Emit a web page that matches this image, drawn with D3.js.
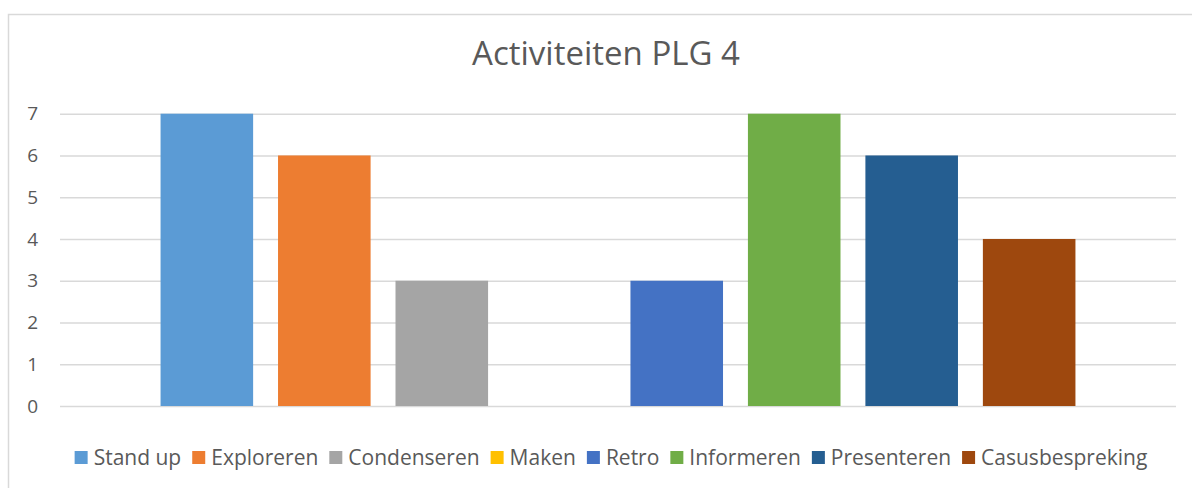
<!DOCTYPE html>
<html>
<head>
<meta charset="utf-8">
<script src="https://cdn.jsdelivr.net/npm/d3@7"></script>
<style>
  html, body { margin: 0; padding: 0; background: #fff; }
  #chart { width: 1192px; height: 488px; }
  text { font-family: "Open Sans", "Noto Sans", sans-serif; fill: #595959; }
</style>
</head>
<body>
<div id="chart"></div>
<script>
const title = "Activiteiten PLG 4";
const series = ["Stand up", "Exploreren", "Condenseren", "Maken", "Retro", "Informeren", "Presenteren", "Casusbespreking"];
const values = [7, 6, 3, 0, 3, 7, 6, 4];
const colors = ["#5b9bd5", "#ed7d31", "#a5a5a5", "#ffc000", "#4472c4", "#70ad47", "#255e91", "#9e480e"];
const yTicks = [0, 1, 2, 3, 4, 5, 6, 7];

function renderChart(containerSelector) {
    const container = d3.select(containerSelector);
    const width = 1192, height = 488;
    container.selectAll("*").remove();

    const svg = container.append("svg")
        .attr("width", width)
        .attr("height", height);

    // chart frame (runs off the right and bottom of the picture)
    svg.append("rect")
        .attr("x", 8.5).attr("y", 14.5)
        .attr("width", 1196).attr("height", 490)
        .attr("fill", "#fff")
        .attr("stroke", "#d9d9d9")
        .attr("stroke-width", 1.5);

    const margin = { top: 113.7, right: 16, bottom: 82, left: 60 };

    const x = d3.scaleBand()
        .domain(series)
        .range([margin.left, width - margin.right])
        .paddingInner(0.212)
        .paddingOuter(0.856);

    const y = d3.scaleLinear()
        .domain([0, 7])
        .range([height - margin.bottom, margin.top]);

    // grid
    svg.append("g")
        .attr("class", "grid")
        .attr("transform", `translate(${margin.left},0)`)
        .call(d3.axisLeft(y).tickValues(yTicks).tickSize(-(width - margin.right - margin.left)).tickFormat(""))
        .call(g => g.select(".domain").remove())
        .call(g => g.selectAll("line").attr("stroke", "#d9d9d9").attr("stroke-width", 1.5));

    // bars
    svg.append("g")
        .selectAll("rect")
        .data(series)
        .join("rect")
        .attr("x", d => x(d))
        .attr("y", (d, i) => y(values[i]))
        .attr("width", x.bandwidth())
        .attr("height", (d, i) => y(0) - y(values[i]))
        .attr("fill", (d, i) => colors[i]);

    // y axis labels
    svg.append("g")
        .attr("transform", `translate(38,0)`)
        .call(d3.axisLeft(y).tickValues(yTicks).tickFormat(d3.format("d")).tickSize(0).tickPadding(0))
        .call(g => g.select(".domain").remove())
        .call(g => g.selectAll("text")
            .style("font-size", "19px")
            .style("font-family", "'Open Sans', sans-serif")
            .attr("fill", "#595959"));

    // title
    svg.append("text")
        .attr("x", 606)
        .attr("y", 65)
        .attr("text-anchor", "middle")
        .style("font-size", "33px")
        .text(title);

    // legend
    const legend = svg.append("g");
    const items = legend.selectAll("g")
        .data(series)
        .join("g");
    items.append("rect")
        .attr("width", 13).attr("height", 13)
        .attr("y", -13)
        .attr("fill", (d, i) => colors[i]);
    items.append("text")
        .attr("x", 19)
        .attr("y", 1)
        .style("font-size", "21px")
        .text(d => d);

    let cx = 0;
    items.each(function () {
        const g = d3.select(this);
        const w = g.select("text").node().getComputedTextLength();
        g.attr("transform", `translate(${cx},0)`);
        cx += 19 + w + 11;
    });
    const total = cx - 11;
    legend.attr("transform", `translate(${611 - total / 2},464)`);
}

renderChart("#chart");
</script>
</body>
</html>
